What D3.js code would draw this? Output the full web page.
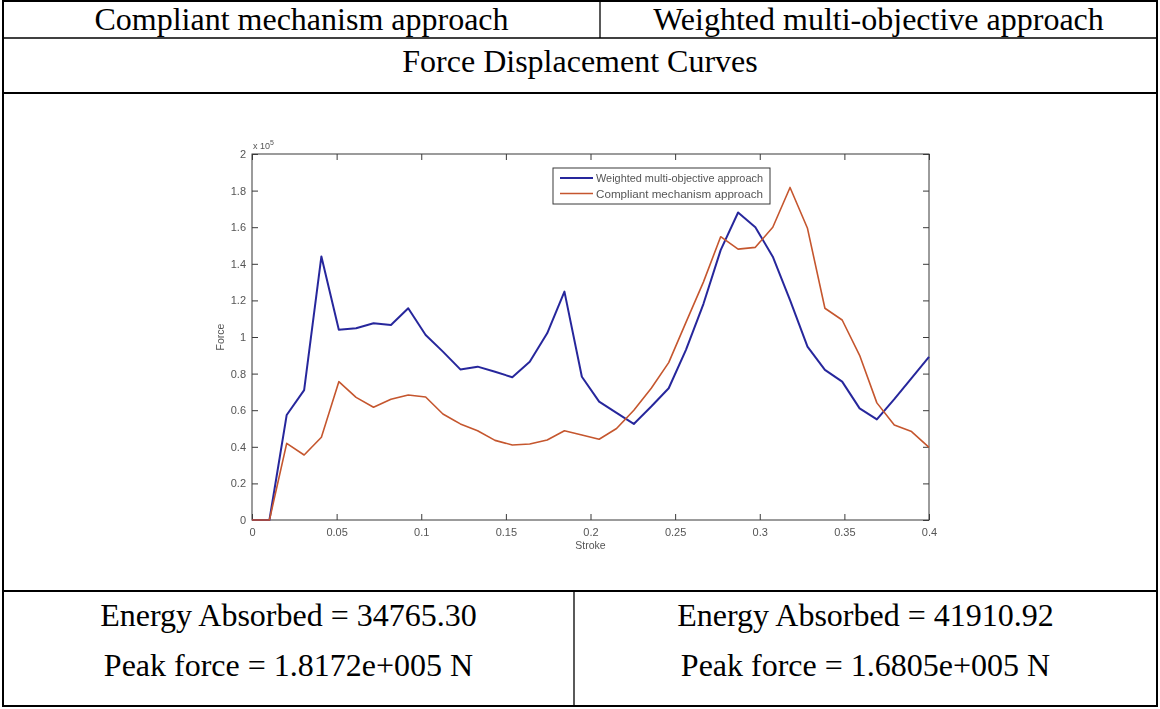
<!DOCTYPE html>
<html>
<head>
<meta charset="utf-8">
<script src="https://cdn.jsdelivr.net/npm/d3@7"></script>
<style>
  html, body { margin: 0; padding: 0; background: #fff; }
  svg { display: block; }
</style>
</head>
<body>
<svg id="chart" width="1160" height="709"></svg>
<script>
// Stroke positions (m) shared by both force-displacement curves
const stroke = [
  0, 0.0103, 0.0205, 0.0308, 0.0410, 0.0513, 0.0615, 0.0718, 0.0821, 0.0923,
  0.1026, 0.1128, 0.1231, 0.1333, 0.1436, 0.1538, 0.1641, 0.1744, 0.1846, 0.1949,
  0.2051, 0.2154, 0.2256, 0.2359, 0.2462, 0.2564, 0.2667, 0.2769, 0.2872, 0.2974,
  0.3077, 0.3179, 0.3282, 0.3385, 0.3487, 0.3590, 0.3692, 0.3795, 0.3897, 0.4000
];
// Force in units of 1e5 N
const weightedForce = [
  0, 0, 0.574, 0.71, 1.44, 1.04, 1.048, 1.075, 1.066, 1.157,
  1.011, 0.92, 0.823, 0.838, 0.81, 0.78, 0.865, 1.02, 1.248, 0.783,
  0.647, 0.585, 0.525, 0.62, 0.72, 0.93, 1.18, 1.475, 1.6805, 1.60,
  1.439, 1.202, 0.947, 0.82, 0.756, 0.61, 0.55, 0.66, 0.775, 0.892
];
const compliantForce = [
  0, 0, 0.419, 0.355, 0.452, 0.756, 0.67, 0.616, 0.66, 0.683,
  0.672, 0.579, 0.525, 0.488, 0.435, 0.41, 0.415, 0.437, 0.488, 0.465,
  0.441, 0.50, 0.60, 0.72, 0.86, 1.08, 1.30, 1.548, 1.48, 1.49,
  1.60, 1.8172, 1.594, 1.157, 1.093, 0.90, 0.64, 0.519, 0.483, 0.397
];
const seriesNames = ["Weighted multi-objective approach", "Compliant mechanism approach"];
const seriesColors = ["#28289c", "#c5562e"];

const strokeTicks = [0, 0.05, 0.1, 0.15, 0.2, 0.25, 0.3, 0.35, 0.4];
const strokeTickLabels = ["0", "0.05", "0.1", "0.15", "0.2", "0.25", "0.3", "0.35", "0.4"];
const forceTicks = [0, 0.2, 0.4, 0.6, 0.8, 1, 1.2, 1.4, 1.6, 1.8, 2];
const forceTickLabels = ["0", "0.2", "0.4", "0.6", "0.8", "1", "1.2", "1.4", "1.6", "1.8", "2"];

const headerLabels = ["Compliant mechanism approach", "Weighted multi-objective approach"];
const sectionTitle = "Force Displacement Curves";
const energyLabels = ["Energy Absorbed = 34765.30", "Energy Absorbed = 41910.92"];
const peakLabels = ["Peak force = 1.8172e+005 N", "Peak force = 1.6805e+005 N"];

const svg = d3.select("#chart");
const serif = "'Liberation Serif', 'Times New Roman', serif";
const sans = "'Liberation Sans', Arial, Helvetica, sans-serif";

// ---------- table frame ----------
const T = { left: 3, right: 1157, top: 1, headRule: 38, titleRule: 93, plotRule: 591, bottom: 706,
            headSplit: 600, footSplit: 574 };
const frame = svg.append("g").attr("stroke", "#000").attr("fill", "none");
frame.append("rect")
  .attr("x", T.left).attr("y", T.top)
  .attr("width", T.right - T.left).attr("height", T.bottom - T.top)
  .attr("stroke-width", 2);
frame.append("line").attr("x1", T.left).attr("x2", T.right)
  .attr("y1", T.headRule).attr("y2", T.headRule).attr("stroke-width", 1.3);
frame.append("line").attr("x1", T.left).attr("x2", T.right)
  .attr("y1", T.titleRule).attr("y2", T.titleRule).attr("stroke-width", 2);
frame.append("line").attr("x1", T.left).attr("x2", T.right)
  .attr("y1", T.plotRule).attr("y2", T.plotRule).attr("stroke-width", 2);
frame.append("line").attr("x1", T.headSplit).attr("x2", T.headSplit)
  .attr("y1", T.top).attr("y2", T.headRule).attr("stroke-width", 1.3);
frame.append("line").attr("x1", T.footSplit).attr("x2", T.footSplit)
  .attr("y1", T.plotRule).attr("y2", T.bottom).attr("stroke-width", 1.3);

const cellText = (x, y, txt) => svg.append("text")
  .attr("x", x).attr("y", y).attr("text-anchor", "middle")
  .attr("font-family", serif).attr("font-size", 32).attr("fill", "#000")
  .text(txt);

const headCenters = [(T.left + T.headSplit) / 2, (T.headSplit + T.right) / 2];
headerLabels.forEach((t, i) => cellText(headCenters[i], 30, t));
cellText((T.left + T.right) / 2, 72, sectionTitle);
const footCenters = [(T.left + T.footSplit) / 2, (T.footSplit + T.right) / 2];
energyLabels.forEach((t, i) => cellText(footCenters[i], 626, t));
peakLabels.forEach((t, i) => cellText(footCenters[i], 676, t));

// ---------- plot ----------
const defs = svg.append("defs");
defs.append("filter").attr("id", "soft")
  .append("feGaussianBlur").attr("stdDeviation", 0.45);

const P = { left: 252, right: 929, top: 154, bottom: 520 };
const x = d3.scaleLinear().domain([0, 0.4]).range([P.left, P.right]);
const y = d3.scaleLinear().domain([0, 2]).range([P.bottom, P.top]);

const plot = svg.append("g").attr("filter", "url(#soft)");
const axisColor = "#3a3a3a";
const labelColor = "#555";

const styleAxis = g => {
  g.select(".domain").remove();
  g.selectAll(".tick line").attr("stroke", axisColor).attr("stroke-width", 1);
  g.selectAll(".tick text").attr("fill", labelColor)
    .attr("font-family", sans).attr("font-size", 11);
};

plot.append("g").attr("transform", `translate(0,${P.bottom})`)
  .call(d3.axisBottom(x).tickValues(strokeTicks)
    .tickFormat((d, i) => strokeTickLabels[i]).tickSizeInner(-6).tickSizeOuter(0).tickPadding(8))
  .call(styleAxis);
plot.append("g").attr("transform", `translate(0,${P.top})`)
  .call(d3.axisTop(x).tickValues(strokeTicks).tickFormat("").tickSizeInner(-6).tickSizeOuter(0))
  .call(styleAxis);
plot.append("g").attr("transform", `translate(${P.left},0)`)
  .call(d3.axisLeft(y).tickValues(forceTicks)
    .tickFormat((d, i) => forceTickLabels[i]).tickSizeInner(-6).tickSizeOuter(0).tickPadding(6))
  .call(styleAxis);
plot.append("g").attr("transform", `translate(${P.right},0)`)
  .call(d3.axisRight(y).tickValues(forceTicks).tickFormat("").tickSizeInner(-6).tickSizeOuter(0))
  .call(styleAxis);

plot.append("rect")
  .attr("x", P.left).attr("y", P.top)
  .attr("width", P.right - P.left).attr("height", P.bottom - P.top)
  .attr("fill", "none").attr("stroke", axisColor).attr("stroke-width", 1);

// exponent marker
const expo = plot.append("text")
  .attr("x", P.left + 1).attr("y", P.top - 5)
  .attr("font-family", sans).attr("font-size", 9).attr("fill", labelColor);
expo.append("tspan").text("x 10");
expo.append("tspan").attr("dy", -4).attr("font-size", 7).text("5");

// axis titles
plot.append("text")
  .attr("x", (P.left + P.right) / 2).attr("y", P.bottom + 29)
  .attr("text-anchor", "middle").attr("font-family", sans).attr("font-size", 10.5)
  .attr("fill", labelColor).text("Stroke");
plot.append("text")
  .attr("transform", `translate(${P.left - 28},${(P.top + P.bottom) / 2}) rotate(-90)`)
  .attr("text-anchor", "middle").attr("font-family", sans).attr("font-size", 10.5)
  .attr("fill", labelColor).text("Force");

// curves
const line = d3.line().x(d => x(d[0])).y(d => y(d[1]));
const series = [weightedForce, compliantForce];
const widths = [2, 1.6];
series.forEach((vals, i) => {
  plot.append("path")
    .datum(stroke.map((s, k) => [s, vals[k]]))
    .attr("fill", "none").attr("stroke", seriesColors[i])
    .attr("stroke-width", widths[i]).attr("stroke-linejoin", "round")
    .attr("d", line);
});

// legend
const L = { x: 553, y: 168, w: 217, h: 36 };
const legend = plot.append("g");
legend.append("rect").attr("x", L.x).attr("y", L.y).attr("width", L.w).attr("height", L.h)
  .attr("fill", "#fff").attr("stroke", axisColor).attr("stroke-width", 1);
seriesNames.forEach((name, i) => {
  const ly = L.y + 10 + i * 15.5;
  legend.append("line").attr("x1", L.x + 7).attr("x2", L.x + 40)
    .attr("y1", ly).attr("y2", ly)
    .attr("stroke", seriesColors[i]).attr("stroke-width", widths[i]);
  legend.append("text").attr("x", L.x + 43).attr("y", ly + 4)
    .attr("font-family", sans).attr("font-size", 11).attr("fill", labelColor)
    .attr("textLength", 167).attr("lengthAdjust", "spacingAndGlyphs")
    .text(name);
});
</script>
</body>
</html>
